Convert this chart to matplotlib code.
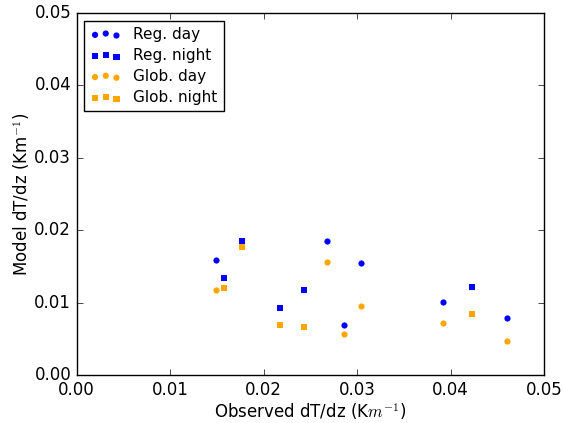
import matplotlib
matplotlib.use('Agg')
import matplotlib.pyplot as plt

# observed / model lapse rates (K/m)
reg_day_obs = [0.01487, 0.02678, 0.03039, 0.02863, 0.03923, 0.04601]
reg_day_mod = [0.01588, 0.01855, 0.01543, 0.00691, 0.01004, 0.00787]
glob_day_mod = [0.01178, 0.01561, 0.00949, 0.00562, 0.00718, 0.00465]

reg_night_obs = [0.01765, 0.01573, 0.02178, 0.02435, 0.0423]
reg_night_mod = [0.01855, 0.0134, 0.0093, 0.01174, 0.01211]
glob_night_mod = [0.01772, 0.01198, 0.00691, 0.00659, 0.00838]

plt.style.use('classic')
fig = plt.figure(figsize=(5.64, 4.23), dpi=100, facecolor='white')
ax = fig.add_subplot(111)
fig.subplots_adjust(left=0.136, right=0.9645, bottom=0.1135, top=0.969)

ax.scatter(reg_day_obs, reg_day_mod, color='blue', marker='o', linewidths=0, label='Reg. day')
ax.scatter(reg_night_obs, reg_night_mod, color='blue', marker='s', linewidths=0, label='Reg. night')
ax.scatter(reg_day_obs, glob_day_mod, color='orange', marker='o', linewidths=0, label='Glob. day')
ax.scatter(reg_night_obs, glob_night_mod, color='orange', marker='s', linewidths=0, label='Glob. night')

ax.set_xlim(0, 0.05)
ax.set_ylim(0, 0.05)
ax.set_xticks([0, 0.01, 0.02, 0.03, 0.04, 0.05])
ax.set_yticks([0, 0.01, 0.02, 0.03, 0.04, 0.05])
ax.set_xticklabels(['0.00', '0.01', '0.02', '0.03', '0.04', '0.05'])
ax.set_yticklabels(['0.00', '0.01', '0.02', '0.03', '0.04', '0.05'])
ax.set_xlabel('Observed dT/dz (K$m^{-1}$)', labelpad=2)
ax.set_ylabel('Model dT/dz (Km$^{-1}$)', labelpad=1.5)
ax.legend(loc='upper left', fontsize=11, labelspacing=0.4)

fig.savefig('out.png', dpi=100, facecolor='white')
